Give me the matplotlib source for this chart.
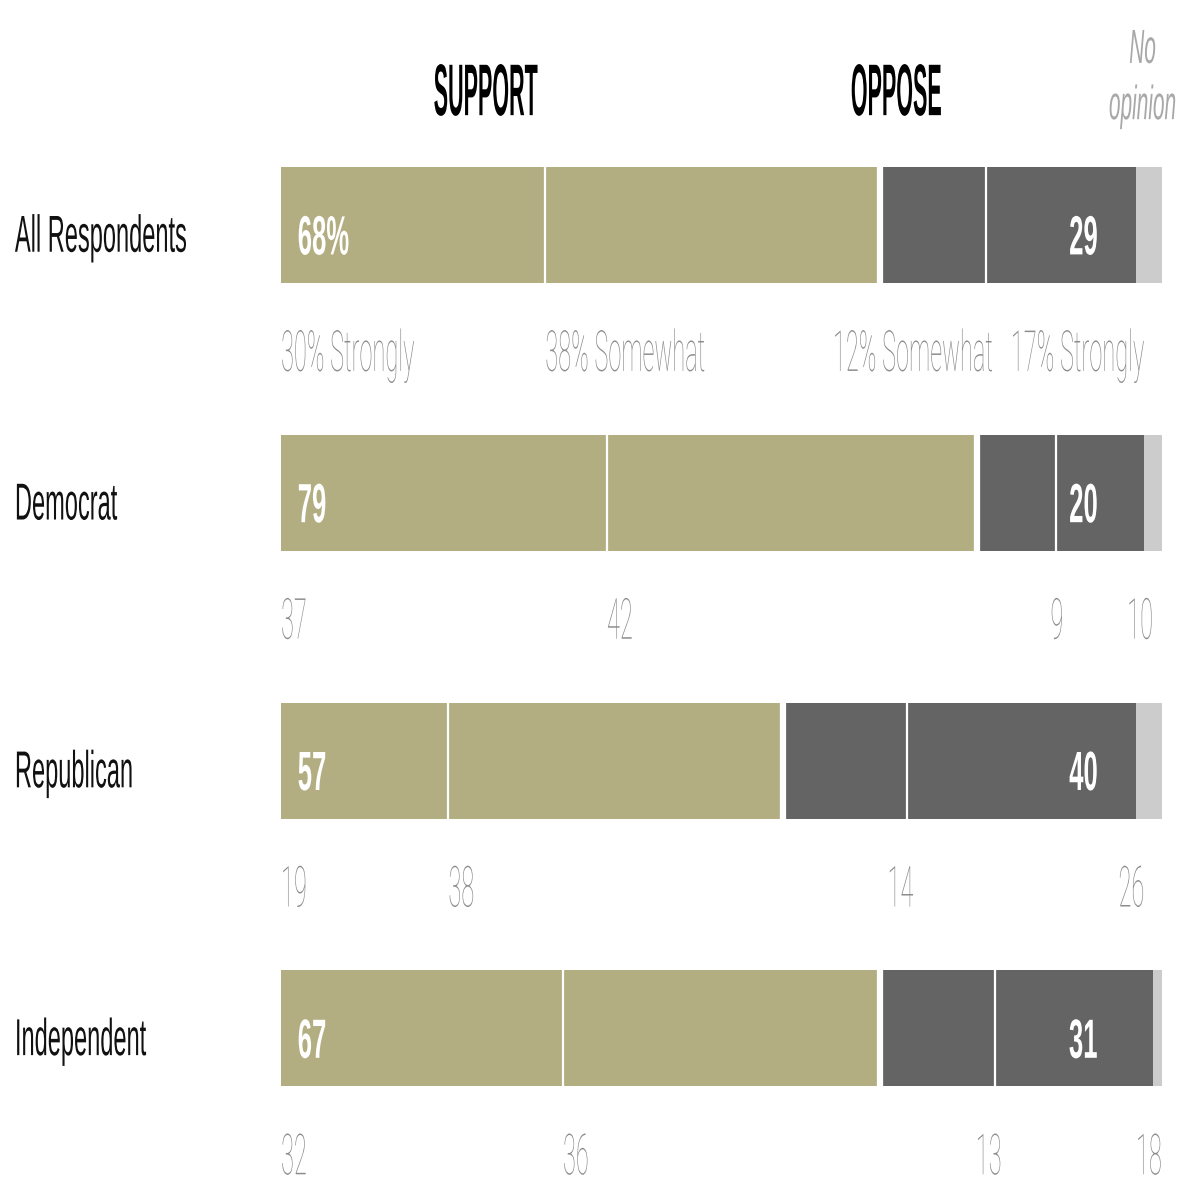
import matplotlib
matplotlib.use("Agg")
import matplotlib.pyplot as plt
from matplotlib.patheffects import AbstractPathEffect
from matplotlib.transforms import Affine2D

groups = ["All Respondents", "Democrat", "Republican", "Independent"]
support_strong = [30, 37, 19, 32]
support_some = [38, 42, 38, 36]
oppose_some = [12, 9, 14, 13]
oppose_strong = [17, 10, 26, 18]
support_total = [68, 79, 57, 67]
oppose_total = [29, 20, 40, 31]

TAN = "#b3ae82"
DARK = "#646464"
LIGHT = "#cccccc"
LABEL_GRAY = "#8c8c8c"


class TallText(AbstractPathEffect):
    """Stretch glyphs vertically about the baseline."""

    def __init__(self, sy):
        super().__init__()
        self.sy = sy

    def draw_path(self, renderer, gc, tpath, affine, rgbFace=None):
        renderer.draw_path(gc, tpath, Affine2D().scale(1, self.sy) + affine, rgbFace)


def tall(sy):
    return [TallText(sy)]


fig = plt.figure(figsize=(11.77, 11.85), dpi=100)
ax = fig.add_axes([281 / 1177, 0, 881 / 1177, 1])
ax.set_xlim(0, 100)
ax.set_ylim(3.585, -0.84)
ax.axis("off")

h = 0.433
rows = list(range(len(groups)))

for i in rows:
    s1, s2 = support_strong[i], support_some[i]
    o1, o2 = oppose_some[i], oppose_strong[i]
    no_op = 100 - (s1 + s2 + o1 + o2)
    left = 0
    for val, col in [(s1, TAN), (s2, TAN), (o1, DARK), (o2, DARK), (no_op, LIGHT)]:
        ax.barh(i, val, left=left, height=h, color=col, linewidth=0)
        left += val

    # white separators between segments
    ax.vlines([s1, s1 + s2 + o1], i - h / 2, i + h / 2, color="white", linewidth=1.6)
    ax.vlines([s1 + s2], i - h / 2, i + h / 2, color="white", linewidth=4.5)

    # group name
    ax.text(-30.2, i + 0.10, groups[i], ha="left", va="baseline", fontsize=17,
            family="Liberation Sans", color="#111111", path_effects=tall(2.2),
            clip_on=False)

    # totals inside bars
    sup_txt = f"{support_total[i]}%" if i == 0 else f"{support_total[i]}"
    ax.text(1.9, i + 0.11, sup_txt, ha="left", va="baseline", fontsize=18.5,
            family="Liberation Sans", weight="bold", color="white",
            path_effects=tall(2.15))
    ax.text(92.7, i + 0.11, f"{oppose_total[i]}", ha="right", va="baseline",
            fontsize=18.5, family="Liberation Sans", weight="bold", color="white",
            path_effects=tall(2.15))

    # segment values under bars
    if i == 0:
        labs = [f"{s1}% Strongly", f"{s2}% Somewhat", f"{o1}% Somewhat", f"{o2}% Strongly"]
    else:
        labs = [str(s1), str(s2), str(o1), str(o2)]
    yb = i + 0.545
    lab_kw = dict(va="baseline", fontsize=17, family=["Roboto", "DejaVu Sans"],
                  weight="light", color=LABEL_GRAY, path_effects=tall(2.4))
    ax.text(0, yb, labs[0], ha="left", **lab_kw)
    ax.text(s1, yb, labs[1], ha="left", **lab_kw)
    ax.text(s1 + s2 + o1 + 0.8, yb, labs[2], ha="right", **lab_kw)
    ax.text(s1 + s2 + o1 + o2 + 1.0, yb, labs[3], ha="right", **lab_kw)

# column headers
head_kw = dict(ha="center", va="baseline", fontsize=15.5, family="Liberation Sans",
               weight="bold", color="black", path_effects=tall(3.4))
ax.text(23.2, -0.41, "SUPPORT", **head_kw)
ax.text(69.8, -0.41, "OPPOSE", **head_kw)

op_kw = dict(ha="center", va="baseline", fontsize=15, family="Liberation Sans",
             style="italic", color="#a8a8a8", path_effects=tall(2.3), clip_on=False)
ax.text(97.8, -0.605, "No", **op_kw)
ax.text(97.8, -0.395, "opinion", **op_kw)

fig.savefig("out.png", dpi=100, facecolor="white")
